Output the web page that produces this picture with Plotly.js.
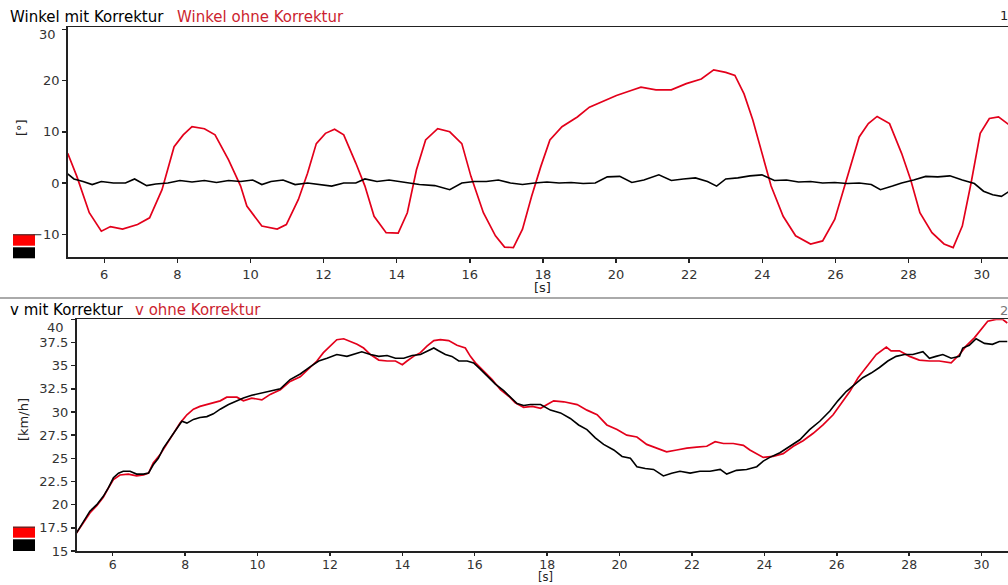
<!DOCTYPE html>
<html><head><meta charset="utf-8">
<script src="https://cdn.plot.ly/plotly-3.0.1.min.js"></script>
<style>html,body{margin:0;padding:0;background:#fff;overflow:hidden}#chart{width:1008px;height:585px}</style>
</head><body><div id="chart"></div>
<script>
// ---- data ----
const tWinkelOhne = [5.00,5.25,5.59,5.92,6.17,6.50,6.91,7.24,7.58,7.91,8.16,8.40,8.74,9.03,9.40,9.73,9.90,10.31,10.73,10.98,11.31,11.56,11.80,12.05,12.30,12.55,12.88,13.13,13.38,13.71,14.04,14.29,14.54,14.79,15.12,15.45,15.78,16.03,16.37,16.70,16.95,17.19,17.44,17.69,17.94,18.19,18.52,18.94,19.27,19.68,20.01,20.43,20.68,21.09,21.51,21.92,22.33,22.67,23.00,23.25,23.50,23.74,23.99,24.24,24.57,24.91,25.32,25.65,25.98,26.32,26.65,26.90,27.14,27.48,27.81,28.06,28.31,28.64,28.97,29.22,29.47,29.71,29.96,30.21,30.46,30.76];
const winkelOhne = [5.8,1.3,-5.8,-9.4,-8.5,-9.0,-8.1,-6.8,-1.3,7.1,9.4,11.0,10.6,9.4,4.5,-0.6,-4.5,-8.4,-9.0,-8.1,-3.2,1.9,7.7,9.7,10.5,9.4,3.9,-0.6,-6.5,-9.7,-9.8,-5.8,2.6,8.4,10.6,10.0,7.7,1.3,-5.8,-10.3,-12.5,-12.6,-9.0,-2.6,3.2,8.4,11.0,12.9,14.8,16.1,17.1,18.1,18.7,18.2,18.2,19.4,20.3,22.1,21.6,21.0,17.4,12.3,5.8,-0.6,-6.5,-10.3,-11.9,-11.3,-7.1,1.3,9.0,11.6,13.0,11.6,5.8,0.6,-5.8,-9.7,-11.9,-12.6,-8.4,0.0,9.7,12.6,12.9,11.3];
const tWinkelMit = [5.00,5.17,5.42,5.67,5.92,6.25,6.58,6.83,7.16,7.41,7.74,8.07,8.40,8.74,9.07,9.40,9.73,10.06,10.31,10.56,10.89,11.22,11.56,11.89,12.22,12.55,12.88,13.13,13.46,13.79,14.04,14.29,14.62,15.04,15.45,15.78,16.12,16.45,16.78,17.11,17.44,17.77,18.11,18.44,18.77,19.10,19.43,19.76,20.10,20.43,20.76,21.17,21.51,21.84,22.17,22.50,22.75,23.00,23.33,23.66,23.99,24.33,24.66,24.99,25.32,25.65,25.98,26.32,26.65,26.98,27.23,27.56,27.81,28.14,28.47,28.80,29.13,29.47,29.80,30.05,30.30,30.54,30.76];
const winkelMit = [1.8,0.8,0.3,-0.3,0.3,0,0,0.8,-0.5,-0.2,0,0.5,0.2,0.5,0.1,0.5,0.3,0.6,-0.3,0.3,0.6,-0.3,0,-0.3,-0.6,0,0,0.8,0.3,0.6,0.3,0,-0.3,-0.5,-1.3,0,0.3,0.3,0.6,0,-0.3,0,0.2,0,0.1,-0.1,0,1.2,1.3,0.1,0.6,1.6,0.5,0.8,1.0,0.3,-0.6,0.8,1.0,1.4,1.6,0.5,0.6,0.2,0.3,0,0.1,-0.1,0,-0.3,-1.3,-0.6,0,0.6,1.3,1.2,1.4,0.6,-0.1,-1.6,-2.3,-2.6,-1.6];

const tVMit = [5.00,5.19,5.37,5.56,5.74,5.88,6.02,6.16,6.29,6.48,6.66,6.85,6.99,7.12,7.26,7.40,7.59,7.77,7.91,8.05,8.23,8.41,8.60,8.78,8.97,9.20,9.43,9.61,9.84,10.07,10.35,10.63,10.90,11.18,11.46,11.69,11.92,12.19,12.47,12.65,12.88,13.12,13.35,13.58,13.81,14.04,14.27,14.50,14.68,14.87,15.00,15.19,15.37,15.56,15.79,15.97,16.16,16.39,16.57,16.80,16.99,17.17,17.35,17.54,17.72,17.82,18.09,18.37,18.64,18.87,19.10,19.33,19.56,19.84,20.07,20.30,20.48,20.71,20.94,21.21,21.44,21.67,21.95,22.22,22.50,22.78,22.96,23.23,23.51,23.79,23.97,24.15,24.43,24.70,24.98,25.25,25.53,25.81,26.03,26.26,26.49,26.72,26.95,27.18,27.41,27.64,27.87,28.10,28.38,28.56,28.74,28.93,29.16,29.39,29.48,29.66,29.85,30.08,30.30,30.49,30.71];
const vMit = [16.95,18.2,19.3,20.0,20.9,21.8,22.9,23.4,23.6,23.6,23.3,23.3,23.4,24.3,25.0,26.1,27.2,28.3,29.0,28.8,29.2,29.4,29.5,29.8,30.3,30.8,31.2,31.5,31.8,32.0,32.2,32.5,33.5,34.1,34.9,35.5,35.8,36.2,36.0,36.2,36.5,36.2,36.0,36.1,35.8,35.8,36.1,36.2,36.5,36.9,36.6,36.2,36.0,35.5,35.5,35.3,34.6,33.7,33.0,32.3,31.6,30.9,30.7,30.8,30.8,30.8,30.2,29.9,29.3,28.6,28.1,27.2,26.5,25.9,25.2,25.0,24.1,23.9,23.8,23.1,23.4,23.6,23.4,23.6,23.6,23.8,23.3,23.7,23.8,24.1,24.7,25.1,25.6,26.3,27.0,28.1,29.0,30.1,31.2,32.2,32.9,33.7,34.2,34.8,35.5,36.0,36.2,36.2,36.5,35.8,36.0,36.2,35.8,36.0,36.9,37.2,37.9,37.4,37.3,37.6,37.6];
const tVOhne = [5.00,5.19,5.37,5.56,5.74,5.88,6.02,6.20,6.43,6.66,6.85,6.99,7.12,7.31,7.49,7.68,7.86,8.05,8.23,8.41,8.69,8.97,9.15,9.43,9.61,9.84,10.12,10.35,10.63,10.90,11.18,11.41,11.64,11.82,12.01,12.19,12.38,12.56,12.75,12.93,13.12,13.35,13.58,13.81,14.00,14.13,14.31,14.50,14.68,14.87,15.05,15.28,15.51,15.74,15.88,16.02,16.25,16.48,16.71,16.94,17.12,17.35,17.59,17.82,18.00,18.18,18.46,18.83,19.10,19.38,19.65,19.93,20.20,20.48,20.75,21.03,21.30,21.58,21.86,22.13,22.41,22.64,22.87,23.14,23.42,23.60,23.79,23.97,24.24,24.52,24.80,25.07,25.35,25.62,25.90,26.13,26.36,26.59,26.82,27.09,27.37,27.50,27.73,28.01,28.28,28.56,28.83,29.16,29.39,29.57,29.80,29.98,30.17,30.40,30.58,30.71];
const vOhne = [16.95,18.0,19.1,19.9,20.8,21.8,22.7,23.2,23.3,23.1,23.2,23.4,24.5,25.4,26.5,27.6,28.8,29.7,30.3,30.6,30.9,31.2,31.6,31.6,31.2,31.5,31.3,31.9,32.4,33.3,33.8,34.6,35.5,36.4,37.1,37.8,37.9,37.6,37.3,36.9,36.2,35.6,35.5,35.5,35.1,35.5,36.0,36.4,37.1,37.7,37.8,37.7,37.2,36.9,36.0,35.3,34.4,33.5,32.4,31.7,31.0,30.5,30.6,30.4,30.8,31.2,31.1,30.8,30.2,29.7,28.6,28.1,27.5,27.3,26.5,26.1,25.7,25.9,26.1,26.2,26.3,26.8,26.6,26.6,26.4,25.9,25.5,25.1,25.2,25.5,26.3,26.9,27.7,28.6,29.7,31.0,32.2,33.7,34.9,36.2,37.0,36.6,36.6,36.0,35.6,35.5,35.5,35.3,36.2,37.1,38.0,38.9,39.8,40.0,40.0,39.6];

const xTicks = [6,8,10,12,14,16,18,20,22,24,26,28,30];
const winkelTicks = [-10,0,10,20,30];
const winkelTickText = ['\u221210','0','10','20',''];   // top label drawn separately (shifted into the plot)
const vTicks = [15,17.5,20,22.5,25,27.5,30,32.5,35,37.5,40];
const vTickText = ['15','17.5','20','22.5','25','27.5','30','32.5','35','37.5',''];
const winkelTopLabel = '30', vTopLabel = '40';
const titles = {
  winkelMit: 'Winkel mit Korrektur', winkelOhne: 'Winkel ohne Korrektur',
  vMit: 'v mit Korrektur', vOhne: 'v ohne Korrektur',
  winkelUnit: '[°]', vUnit: '[km/h]', tUnit: '[s]'
};

// ---- layout helpers (pixel -> paper) ----
const W = 1008, H = 585;
const px = x => x / W;
const py = y => 1 - y / H;
const RED = '#e3001b', RED_TXT = '#cc1f30', BLK = '#000000';
const FONT = 'DejaVu Sans';
const tickFont = {family: FONT, size: 13, color: '#333'};

const axBase = {
  ticks: 'outside', ticklen: 4, tickwidth: 1.5, tickcolor: '#222',
  showline: true, linecolor: '#222', linewidth: 1.6,
  showgrid: false, zeroline: false, tickfont: tickFont, fixedrange: true
};

const traces = [
  {x: tWinkelOhne, y: winkelOhne, xaxis: 'x', yaxis: 'y', mode: 'lines', line: {color: RED, width: 1.7}, name: titles.winkelOhne},
  {x: tWinkelMit, y: winkelMit, xaxis: 'x', yaxis: 'y', mode: 'lines', line: {color: BLK, width: 1.6}, name: titles.winkelMit},
  {x: tVOhne, y: vOhne, xaxis: 'x2', yaxis: 'y2', mode: 'lines', line: {color: RED, width: 1.7}, name: titles.vOhne},
  {x: tVMit, y: vMit, xaxis: 'x2', yaxis: 'y2', mode: 'lines', line: {color: BLK, width: 1.6}, name: titles.vMit}
];

const ann = (text, x, y, opts) => Object.assign({
  text: text, xref: 'paper', yref: 'paper', x: px(x), y: py(y),
  xanchor: 'left', yanchor: 'middle', showarrow: false,
  font: {family: FONT, size: 15, color: '#000'}
}, opts || {});
const smallFont = {family: FONT, size: 13, color: '#222'};

const layout = {
  width: W, height: H, margin: {l: 0, r: 0, t: 0, b: 0, pad: 0},
  paper_bgcolor: '#fff', plot_bgcolor: '#fff', showlegend: false,
  xaxis: Object.assign({}, axBase, {domain: [px(67.7), 1], range: [5, 30.72], anchor: 'y', tickvals: xTicks, mirror: true}),
  yaxis: Object.assign({}, axBase, {domain: [py(257.3), py(27.3)], range: [-14.5, 30.4], anchor: 'x', tickvals: winkelTicks, ticktext: winkelTickText}),
  xaxis2: Object.assign({}, axBase, {domain: [px(76.5), 1], range: [5, 30.73], anchor: 'y2', tickvals: xTicks, mirror: true, ticklen: 3, ticklabelstandoff: -2, tickfont: {family: FONT, size: 12.5, color: '#333'}}),
  yaxis2: Object.assign({}, axBase, {domain: [py(551), py(319.3)], range: [15, 40], anchor: 'x2', tickvals: vTicks, ticktext: vTickText}),
  annotations: [
    ann(titles.winkelMit, 8, 17),
    ann(titles.winkelOhne, 175, 17, {font: {family: FONT, size: 15, color: RED_TXT}}),
    ann(titles.vMit, 8, 310),
    ann(titles.vOhne, 133, 310, {font: {family: FONT, size: 15, color: RED_TXT}}),
    ann(winkelTopLabel, 58, 34, {xanchor: 'right', font: tickFont}),
    ann(vTopLabel, 66, 327, {xanchor: 'right', font: tickFont}),
    ann(titles.winkelUnit, 21, 128, {xanchor: 'center', textangle: -90, font: smallFont}),
    ann(titles.vUnit, 23, 420, {xanchor: 'center', textangle: -90, font: smallFont}),
    ann(titles.tUnit, 542, 287, {xanchor: 'center', font: smallFont}),
    ann(titles.tUnit, 545, 586, {xanchor: 'center', yanchor: 'bottom', font: {family: FONT, size: 11.5, color: '#222'}}),
    ann('1', 998, 15, {font: smallFont}),
    ann('2', 998, 310, {font: {family: FONT, size: 13, color: '#777'}})
  ],
  shapes: [
    {type: 'line', xref: 'paper', yref: 'paper', x0: 0, x1: 1, y0: py(298), y1: py(298), line: {color: '#aaaaaa', width: 2}},
    {type: 'rect', xref: 'paper', yref: 'paper', x0: px(13), x1: px(35), y0: py(245.7), y1: py(234.3), fillcolor: '#ff0000', line: {width: 0}},
    {type: 'line', xref: 'paper', yref: 'paper', x0: px(13), x1: px(35), y0: py(234.8), y1: py(234.8), line: {color: '#333', width: 1}},
    {type: 'rect', xref: 'paper', yref: 'paper', x0: px(13), x1: px(35), y0: py(258.3), y1: py(247.3), fillcolor: '#000000', line: {width: 0}},
    {type: 'rect', xref: 'paper', yref: 'paper', x0: px(13), x1: px(35), y0: py(537.7), y1: py(526.7), fillcolor: '#ff0000', line: {width: 0}},
    {type: 'line', xref: 'paper', yref: 'paper', x0: px(13), x1: px(35), y0: py(527.2), y1: py(527.2), line: {color: '#333', width: 1}},
    {type: 'rect', xref: 'paper', yref: 'paper', x0: px(13), x1: px(35), y0: py(551), y1: py(539.3), fillcolor: '#000000', line: {width: 0}}
  ]
};

Plotly.newPlot('chart', traces, layout, {displayModeBar: false, staticPlot: true});
</script>
</body></html>
